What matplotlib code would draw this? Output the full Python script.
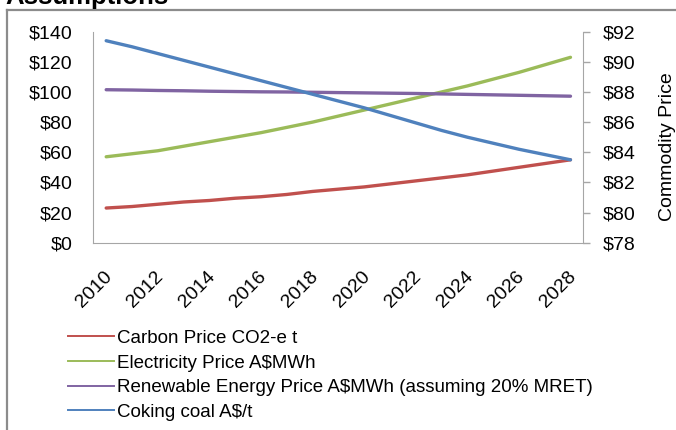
import matplotlib
matplotlib.use("Agg")
import matplotlib.pyplot as plt
from matplotlib.ticker import FuncFormatter, MultipleLocator
from matplotlib.lines import Line2D
from matplotlib.transforms import ScaledTranslation

plt.rcParams['font.family'] = ['Liberation Sans', 'DejaVu Sans']

# =========================
# DATA
# =========================
years = list(range(2010, 2029))

carbon = [23, 24, 25.5, 27, 28, 29.5, 30.5, 32, 34, 35.5,
          37, 39, 41, 43, 45, 47.5, 50, 52.5, 55]
electricity = [57, 59, 61, 64, 67, 70, 73, 76.5, 80, 84,
               88, 92, 96, 100, 104, 108.5, 113, 118, 123]
renewable = [101.5, 101.3, 101, 100.8, 100.5, 100.3, 100.1, 100, 99.8, 99.6,
             99.4, 99.2, 99, 98.7, 98.4, 98.1, 97.8, 97.5, 97.2]
# coking coal on the right (commodity price) axis
coking = [91.4, 91.0, 90.55, 90.1, 89.65, 89.2, 88.75, 88.3, 87.85, 87.4,
          86.95, 86.45, 85.95, 85.45, 85.0, 84.6, 84.2, 83.85, 83.5]

labels = ["Carbon Price CO2-e t",
          "Electricity Price A\\$MWh",
          "Renewable Energy Price A\\$MWh (assuming 20% MRET)",
          "Coking coal A\\$/t"]
colors = ["#c0504d", "#9bbb59", "#8064a2", "#4f81bd"]

# =========================
# FIGURE
# =========================
fig = plt.figure(figsize=(6.76, 4.30), dpi=100)
ax = fig.add_axes([0.138, 0.4356, 0.725, 0.4907])
ax2 = ax.twinx()

lw = 2.4
ax.plot(years, carbon, color=colors[0], lw=lw, solid_capstyle='round')
ax.plot(years, electricity, color=colors[1], lw=lw, solid_capstyle='round')
ax.plot(years, renewable, color=colors[2], lw=lw, solid_capstyle='round')
ax2.plot(years, coking, color=colors[3], lw=lw, solid_capstyle='round')

ax.set_xlim(2009.5, 2028.5)
ax.set_ylim(0, 140)
ax2.set_ylim(78, 92)
ax.yaxis.set_major_locator(MultipleLocator(20))
ax2.yaxis.set_major_locator(MultipleLocator(2))
ax.set_xticks(years[::2])

money = FuncFormatter(lambda v, p: "\\$%d" % v)
ax.yaxis.set_major_formatter(money)
ax2.yaxis.set_major_formatter(money)

spine_col = "#a6a6a6"
for a in (ax, ax2):
    a.spines['top'].set_visible(False)
    for s in ('left', 'right', 'bottom'):
        a.spines[s].set_color(spine_col)
ax2.spines['left'].set_visible(False)
ax2.spines['bottom'].set_visible(False)
ax.spines['right'].set_visible(False)

ax.tick_params(axis='y', length=0, pad=15, labelsize=14)
ax2.tick_params(axis='y', length=5, width=1, color=spine_col, pad=9, labelsize=14)
ax.tick_params(axis='x', length=0, pad=18, labelsize=14)

for lab in ax.get_xticklabels():
    lab.set_rotation(45)
    lab.set_ha('right')
    lab.set_va('top')
    lab.set_rotation_mode('anchor')
    lab.set_transform(lab.get_transform() + ScaledTranslation(-3 / 100, 0, fig.dpi_scale_trans))

# right axis title
fig.text(0.987, 0.66, "Commodity Price", rotation=90, ha='center', va='center', fontsize=14)

# cut-off chart title and outer frame
fig.text(0.008, 0.99, "Assumptions", fontsize=18.5, fontweight='bold', va='baseline', ha='left')
fig.add_artist(Line2D([0.0099, 0.0099], [0.0, 0.977], color="#8c8c8c", lw=1.6))
fig.add_artist(Line2D([0.0099, 1.0], [0.977, 0.977], color="#8c8c8c", lw=1.6))

# =========================
# LEGEND
# =========================
handles = [Line2D([], [], color=c, lw=1.4) for c in colors]
fig.legend(handles, labels, loc='upper left', bbox_to_anchor=(0.1006, 0.233),
           frameon=False, fontsize=13.5, handlelength=2.45, handletextpad=0.16,
           labelspacing=0.4, borderpad=0, borderaxespad=0)

fig.savefig("out.png", dpi=100)
